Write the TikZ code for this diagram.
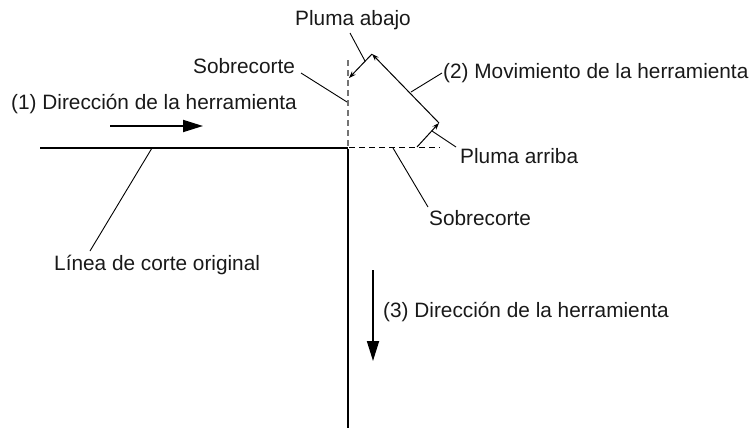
\documentclass[tikz,border=0pt]{standalone}
\usepackage{fontspec}
\setmainfont{Liberation Sans}
\usetikzlibrary{arrows.meta}
\begin{document}
\begin{tikzpicture}[x=1pt,y=-1pt,
  lbl/.style={anchor=base west,inner sep=0pt,font=\fontsize{20.8}{25}\selectfont,text=black!90},
  thickline/.style={line width=2.4pt,line cap=butt},
  thin/.style={line width=1pt},
  leader/.style={line width=0.9pt},
  bigarrow/.style={line width=1.8pt,-{Triangle[length=20pt,width=12pt]}},
  smallarrow/.style={line width=1pt,-{Stealth[length=7pt,width=5pt]}},
  dashv/.style={line width=1.6pt,draw=black!55,dash pattern=on 6pt off 4pt},
  dashh/.style={line width=1pt,dash pattern=on 6pt off 4pt}]
\useasboundingbox (0,0) rectangle (751,428);
% labels
\node[lbl] (pabajo) at (295,26) {Pluma abajo};
\node[lbl] (sob1) at (193,73) {Sobrecorte};
\node[lbl] (mov) at (443,78) {(2) Movimiento de la herramienta};
\node[lbl] (dir1) at (11,109) {(1) Dirección de la herramienta};
\node[lbl] (parriba) at (460,163) {Pluma arriba};
\node[lbl] (sob2) at (429,225) {Sobrecorte};
\node[lbl] (linea) at (54,270) {Línea de corte original};
\node[lbl] (dir3) at (383,317) {(3) Dirección de la herramienta};
% geometry coordinates
\coordinate (hl) at (40,148);
\coordinate (corner) at (348,148);
\coordinate (vb) at (348,428);
\coordinate (dvt) at (348,60);
\coordinate (dhe) at (440,147);
\coordinate (dhs) at (349,147);
\coordinate (mtop) at (372,54);
\coordinate (mbot) at (439,123);
\coordinate (pdend) at (349,78);
\coordinate (pustart) at (417,147);
\coordinate (a1s) at (110,126);
\coordinate (a1e) at (203,126);
\coordinate (a3s) at (373,270);
\coordinate (a3e) at (373,361);
% leader end points
\coordinate (l1a) at (350,33);
\coordinate (l1b) at (365,61);
\coordinate (l2a) at (301,73);
\coordinate (l2b) at (347,102);
\coordinate (l3a) at (442,73);
\coordinate (l3b) at (411,92);
\coordinate (l4a) at (456,147);
\coordinate (l4b) at (432,131);
\coordinate (l5a) at (428,207);
\coordinate (l5b) at (393,148);
\coordinate (l6a) at (90,251);
\coordinate (l6b) at (152,148);
% main cut line
\draw[thickline] (hl) -- (corner);
\draw[thickline] ([yshift=-1.2pt]corner) -- (vb);
% overcuts
\draw[dashv] (dvt) -- (corner);
\draw[dashh] (dhs) -- (dhe);
% tool movement
\draw[smallarrow] (mbot) -- (mtop);
\draw[smallarrow] (mtop) -- (pdend);
\draw[smallarrow] (pustart) -- (mbot);
% direction arrows
\draw[bigarrow] (a1s) -- (a1e);
\draw[bigarrow] (a3s) -- (a3e);
% leaders
\draw[leader] (l1a) -- (l1b);
\draw[leader] (l2a) -- (l2b);
\draw[leader] (l3a) -- (l3b);
\draw[leader] (l4a) -- (l4b);
\draw[leader] (l5a) -- (l5b);
\draw[leader] (l6a) -- (l6b);
\end{tikzpicture}
\end{document}
